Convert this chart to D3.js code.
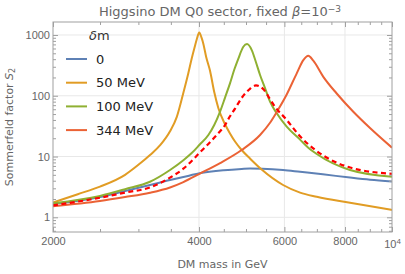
<!DOCTYPE html>
<html>
<head>
<meta charset="utf-8">
<script src="https://cdn.jsdelivr.net/npm/d3@7"></script>
<style>
	body { margin: 0; background: #fff; }
	svg { font-family: "DejaVu Sans", sans-serif; }
</style>
</head>
<body>
<div id="chartDiv"></div>
<script>
// DM mass (GeV) and Sommerfeld factor
var mass0 = [2000, 2500, 2816, 3170, 3486, 3714, 4010, 4500, 4898, 5096, 5400, 5962, 6463, 7200, 8192, 9009, 10000];
var s0 = [1.65, 2.15, 2.7, 3.4, 4.1, 4.6, 5.3, 5.95, 6.25, 6.35, 6.3, 6.0, 5.6, 5.1, 4.5, 4.15, 3.9];

var mass50 = [2000, 2250, 2500, 2816, 3000, 3170, 3330, 3486, 3600, 3714, 3800, 3864, 3920, 3958, 4005, 4045, 4083, 4140, 4214, 4300, 4384, 4526, 4634, 4750, 4898, 5100, 5386, 5962, 6463, 6996, 8192, 10000];
var s50 = [1.75, 2.4, 3.2, 5.0, 7.3, 10.6, 15.5, 26, 45, 112, 230, 410, 640, 850, 1100, 920, 720, 430, 260, 115, 63, 34, 24, 17.5, 12.8, 9.2, 6.1, 3.4, 2.55, 2.18, 1.74, 1.32];

var mass100 = [2000, 2500, 2816, 3170, 3486, 3714, 3864, 4010, 4182, 4300, 4421, 4530, 4634, 4730, 4822, 4937, 5024, 5138, 5240, 5345, 5470, 5604, 5800, 6066, 6463, 6720, 6996, 8192, 10000];
var s100 = [1.7, 2.25, 2.9, 3.85, 6.0, 8.7, 11.4, 15.6, 22.6, 33, 55, 95, 160, 270, 410, 640, 710, 565, 360, 220, 135, 80, 50, 31, 19, 14, 11, 6.0, 4.66];

var mass344 = [2000, 2500, 2816, 3170, 3486, 3714, 4010, 4421, 4898, 5345, 5604, 5785, 6066, 6362, 6564, 6720, 6882, 7218, 7691, 8322, 9009, 10000];
var s344 = [1.52, 1.85, 2.15, 2.54, 3.1, 3.8, 5.2, 7.8, 12.8, 22.6, 36, 54, 105, 234, 386, 455, 378, 205, 109, 54.6, 29.5, 14];

// dashed curve (no legend entry)
var massDash = [2000, 2500, 2816, 3170, 3486, 3714, 4010, 4351, 4526, 4634, 4750, 4898, 5096, 5243, 5430, 5604, 5693, 6066, 6463, 6996, 8192, 10000];
var sDash = [1.57, 2.1, 2.55, 3.1, 4.5, 6.3, 11.5, 22.6, 33, 46, 62, 92, 130, 148, 128, 88, 72, 40, 21.5, 12.3, 6.6, 5.2];

var legendLabels = ["0", "50 MeV", "100 MeV", "344 MeV"];
var xMajor = [2000, 4000, 6000, 8000, 10000];
var xMinor = [2500, 3000, 3500, 4500, 5000, 5500, 6500, 7000, 7500, 8500, 9000, 9500];
var yMajor = [1, 10, 100, 1000];
var yMinor = [0.6, 0.7, 0.8, 0.9, 2, 3, 4, 5, 6, 7, 8, 9, 20, 30, 40, 50, 60, 70, 80, 90, 200, 300, 400, 500, 600, 700, 800, 900];

var colors = ["#5E81B5", "#E19C24", "#8FB032", "#EB6235"];
var width = 405, height = 274;
var margin = { top: 22, right: 13, bottom: 42, left: 53 };
var chartWidth = width - margin.left - margin.right;
var chartHeight = height - margin.top - margin.bottom;
var frameColor = "#a0a0a0";
var labelColor = "#666";

var chart = d3.select("#chartDiv").append("svg")
	.attr("width", width)
	.attr("height", height);

var plot = chart.append("g")
	.attr("transform", "translate(" + margin.left + "," + margin.top + ")");

var xScale = d3.scaleLog().domain([2000, 10000]).range([0, chartWidth]);
var yScale = d3.scaleLog().domain([0.573, 1636]).range([chartHeight, 0]);

// grid
plot.selectAll(".vgrid").data([4000, 6000, 8000]).enter().append("line")
	.attr("x1", function(d) { return xScale(d); }).attr("x2", function(d) { return xScale(d); })
	.attr("y1", 0).attr("y2", chartHeight)
	.attr("stroke", "#e8e8e8").attr("stroke-width", 1);
plot.selectAll(".hgrid").data(yMajor).enter().append("line")
	.attr("y1", function(d) { return yScale(d); }).attr("y2", function(d) { return yScale(d); })
	.attr("x1", 0).attr("x2", chartWidth)
	.attr("stroke", "#e8e8e8").attr("stroke-width", 1);

// curves
var line = d3.line()
	.x(function(d) { return xScale(d[0]); })
	.y(function(d) { return yScale(d[1]); })
	.curve(d3.curveMonotoneX);

function pairs(m, s) { return m.map(function(v, i) { return [v, s[i]]; }); }

var series = [pairs(mass0, s0), pairs(mass50, s50), pairs(mass100, s100), pairs(mass344, s344)];

plot.append("defs").append("clipPath").attr("id", "clip")
	.append("rect").attr("width", chartWidth).attr("height", chartHeight);

var curves = plot.append("g").attr("clip-path", "url(#clip)");
series.forEach(function(d, i) {
	curves.append("path")
		.attr("d", line(d))
		.attr("fill", "none")
		.attr("stroke", colors[i])
		.attr("stroke-width", 2);
});
curves.append("path")
	.attr("d", line(pairs(massDash, sDash)))
	.attr("fill", "none")
	.attr("stroke", "#ff0000")
	.attr("stroke-width", 2.2)
	.attr("stroke-dasharray", "5,3.5");

// frame and ticks (inside, all four sides)
function styleAxis(g) {
	g.select(".domain").remove();
	g.selectAll(".tick line").attr("stroke", frameColor);
	g.selectAll(".tick text").attr("fill", labelColor).style("font-size", "11px");
}

plot.append("g").attr("transform", "translate(0," + chartHeight + ")")
	.call(d3.axisBottom(xScale).tickValues(xMajor).tickSize(-5).tickPadding(5)
		.tickFormat(function(d) { return d === 10000 ? "10" : d; }))
	.call(styleAxis)
	.selectAll(".tick text").filter(function(d) { return d === 10000; })
		.attr("dy", "1.0em")
		.append("tspan").attr("dy", "-0.45em").style("font-size", "8px").text("4");
plot.append("g").attr("transform", "translate(0," + chartHeight + ")")
	.call(d3.axisBottom(xScale).tickValues(xMinor).tickSize(-3).tickFormat(""))
	.call(styleAxis);
plot.append("g")
	.call(d3.axisTop(xScale).tickValues(xMajor).tickSize(-5).tickFormat(""))
	.call(styleAxis);
plot.append("g")
	.call(d3.axisTop(xScale).tickValues(xMinor).tickSize(-3).tickFormat(""))
	.call(styleAxis);

plot.append("g")
	.call(d3.axisLeft(yScale).tickValues(yMajor).tickSize(-5).tickPadding(3).tickFormat(d3.format("d")))
	.call(styleAxis);
plot.append("g")
	.call(d3.axisLeft(yScale).tickValues(yMinor).tickSize(-3).tickFormat(""))
	.call(styleAxis);
plot.append("g").attr("transform", "translate(" + chartWidth + ",0)")
	.call(d3.axisRight(yScale).tickValues(yMajor).tickSize(-5).tickFormat(""))
	.call(styleAxis);
plot.append("g").attr("transform", "translate(" + chartWidth + ",0)")
	.call(d3.axisRight(yScale).tickValues(yMinor).tickSize(-3).tickFormat(""))
	.call(styleAxis);

plot.append("rect")
	.attr("width", chartWidth).attr("height", chartHeight)
	.attr("fill", "none").attr("stroke", frameColor).attr("stroke-width", 1);

// title
var title = chart.append("text")
	.attr("x", 220).attr("y", 16)
	.attr("text-anchor", "middle")
	.attr("fill", labelColor)
	.style("font-size", "13px");
title.append("tspan").text("Higgsino DM Q0 sector, fixed ");
title.append("tspan").style("font-style", "italic").text("β");
title.append("tspan").text("=10");
title.append("tspan").attr("dy", "-0.45em").style("font-size", "9px").text("−3");

// axis labels
chart.append("text")
	.attr("x", margin.left + chartWidth / 2).attr("y", 268)
	.attr("text-anchor", "middle")
	.attr("fill", labelColor)
	.style("font-size", "11px")
	.text("DM mass in GeV");

var ylab = chart.append("text")
	.attr("transform", "translate(12.5," + (margin.top + chartHeight / 2) + ") rotate(-90)")
	.attr("text-anchor", "middle")
	.attr("fill", labelColor)
	.style("font-size", "11px");
ylab.append("tspan").text("Sommerfeld factor ");
ylab.append("tspan").style("font-style", "italic").text("S");
ylab.append("tspan").attr("dy", "0.3em").style("font-size", "8px").text("2");

// legend
var legend = chart.append("g");
var lt = legend.append("text").attr("x", 89).attr("y", 40)
	.attr("fill", "#333").style("font-size", "13px");
lt.append("tspan").style("font-style", "italic").text("δ");
lt.append("tspan").text("m");

legendLabels.forEach(function(name, i) {
	var y = 59 + i * 23.7;
	legend.append("line")
		.attr("x1", 66).attr("x2", 87).attr("y1", y).attr("y2", y)
		.attr("stroke", colors[i]).attr("stroke-width", 2);
	legend.append("text")
		.attr("x", 96).attr("y", y + 4.7)
		.attr("fill", "#222")
		.style("font-size", "13px")
		.text(name);
});
</script>
</body>
</html>
